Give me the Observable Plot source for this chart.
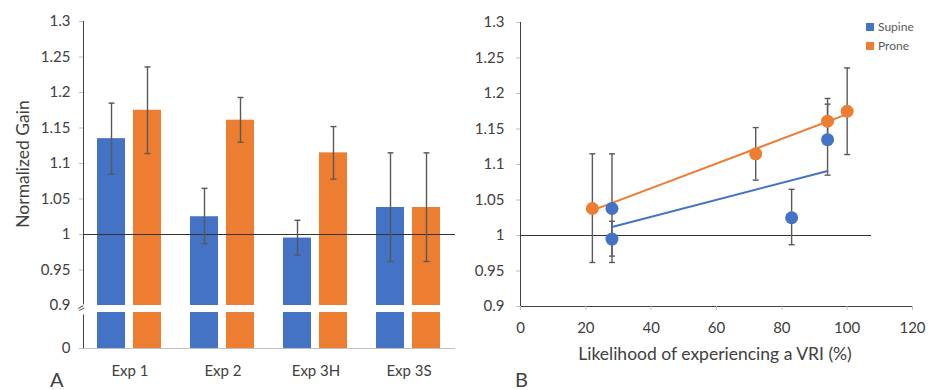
<!DOCTYPE html>
<html>
<head>
<meta charset="utf-8">
<script src="https://cdn.jsdelivr.net/npm/d3@7"></script>
<script src="https://cdn.jsdelivr.net/npm/@observablehq/plot@0.6"></script>
<style>
  body { margin: 0; background: #fff; }
  #wrap { position: relative; width: 933px; height: 390px; overflow: hidden; font-family: Lato, sans-serif; color: #404040; }
  #leftTop, #leftBottom, #right { position: absolute; }
  #leftTop { left: 0; top: 0; }
  #leftBottom { left: 0; top: 305px; }
  #right { left: 470px; top: 0; }
  svg [aria-label^="y-axis"] line, svg [aria-label^="y-axis"] path,
  svg [aria-label^="x-axis"] line, svg [aria-label^="x-axis"] path { stroke: #bfbfbf; }
  svg [aria-label^="fx-axis"] text { font-size: 15px; }
  .lbl { position: absolute; white-space: nowrap; color: #404040; }
  #ytitle { left: 22px; top: 164px; font-size: 17.5px; transform: translate(-50%, -50%) rotate(-90deg); }
  #xtitle { left: 715px; top: 353px; font-size: 17.5px; transform: translate(-50%, -50%); }
  #brk { left: 81px; top: 308px; font-size: 14px; line-height: 14px; transform: translate(-50%, -50%) rotate(-28deg); color: #595959; background: #fff; }
  #panelA, #panelB { top: 370px; font-size: 20px; line-height: 19px; height: 19px; }
  #panelA { left: 50px; }
  #panelB { left: 515px; }
  #legend { position: absolute; left: 866px; top: 17px; font-size: 12px; color: #595959; }
  #legend div { display: flex; align-items: center; height: 19px; }
  #legend span.sw { display: inline-block; width: 8px; height: 8px; margin-right: 4px; }
</style>
</head>
<body>
<div id="wrap">
  <div id="leftTop"></div>
  <div id="leftBottom"></div>
  <div id="right"></div>
  <div class="lbl" id="ytitle">Normalized Gain</div>
  <div class="lbl" id="xtitle">Likelihood of experiencing a VRI (%)</div>
  <div class="lbl" id="brk">=</div>
  <div class="lbl" id="panelA">A</div>
  <div class="lbl" id="panelB">B</div>
  <div id="legend"></div>
</div>
<script>
// ---- data ----
const categories = ["Exp 1", "Exp 2", "Exp 3H", "Exp 3S"];
const series = ["Supine", "Prone"];
const seriesColors = ["#4472C4", "#ED7D31"];

const supineMean = [1.135, 1.025, 0.995, 1.038];
const supineLo   = [1.085, 0.987, 0.971, 0.962];
const supineHi   = [1.185, 1.065, 1.020, 1.115];

const proneMean  = [1.175, 1.161, 1.115, 1.038];
const proneLo    = [1.114, 1.130, 1.078, 0.962];
const proneHi    = [1.236, 1.193, 1.152, 1.115];

// likelihood of experiencing a VRI (%) for each experiment
const likelihoodSupine = [94, 83, 28, 28];
const likelihoodProne  = [100, 94, 72, 22];

const yTicksTop    = [0.9, 0.95, 1, 1.05, 1.1, 1.15, 1.2, 1.25, 1.3];
const yTicksBottom = [0];
const yDomainTop    = [0.9, 1.3];   // upper part of broken axis (panel A)
const yDomainBottom = [0, 0.1];     // stub below the axis break (panel A)
const yTicksRight = [0.9, 0.95, 1, 1.05, 1.1, 1.15, 1.2, 1.25, 1.3];
const xTicksRight = [0, 20, 40, 60, 80, 100, 120];
const refLevel = [1];               // reference gain
const refLineX = [0, 107.5];        // extent of reference line on panel B

// ---- tables ----
const rows = categories.flatMap((c, i) => [
  {cat: c, series: "Supine", mean: supineMean[i], lo: supineLo[i], hi: supineHi[i]},
  {cat: c, series: "Prone",  mean: proneMean[i],  lo: proneLo[i],  hi: proneHi[i]}
]);
const scatter = [
  ...categories.map((c, i) => ({series: "Supine", x: likelihoodSupine[i], mean: supineMean[i], lo: supineLo[i], hi: supineHi[i]})),
  ...categories.map((c, i) => ({series: "Prone",  x: likelihoodProne[i],  mean: proneMean[i],  lo: proneLo[i],  hi: proneHi[i]}))
];

const fmt = d => String(d);
const cap = {draw(ctx, size) { const w = Math.sqrt(size / Math.PI); ctx.moveTo(-w, 0); ctx.lineTo(w, 0); }};
const errColor = "#595959";
const font = {fontFamily: "Lato, sans-serif", fontSize: "15px", color: "#404040", background: "transparent", overflow: "visible"};
const fxOpts = {domain: categories, padding: 0, label: null, tickSize: 0, tickPadding: 17};
const xOpts = {domain: series, axis: null, paddingInner: 0.22, paddingOuter: 0.39};
const colorOpts = {domain: series, range: seriesColors};

// ---- panel A, upper part ----
const leftTop = Plot.plot({
  width: 470, height: 312,
  marginLeft: 81, marginRight: 14, marginTop: 21, marginBottom: 7,
  style: font,
  facet: {data: rows, x: "cat"},
  fx: {...fxOpts, axis: null},
  x: xOpts,
  y: {domain: yDomainTop, clamp: true, ticks: yTicksTop, tickFormat: fmt, tickSize: 4, tickPadding: 9, line: true, label: null},
  color: colorOpts,
  marks: [
    Plot.barY(rows, {x: "series", y: "mean", fill: "series"}),
    Plot.ruleY(refLevel, {stroke: "#333", strokeWidth: 1}),
    Plot.ruleX(rows, {x: "series", y1: "lo", y2: "hi", stroke: errColor, strokeWidth: 1.4}),
    Plot.dot(rows, {x: "series", y: "lo", symbol: cap, r: 3, stroke: errColor, strokeWidth: 1.4, fill: "none"}),
    Plot.dot(rows, {x: "series", y: "hi", symbol: cap, r: 3, stroke: errColor, strokeWidth: 1.4, fill: "none"})
  ]
});
document.getElementById("leftTop").appendChild(leftTop);

// ---- panel A, stub below the break ----
const leftBottom = Plot.plot({
  width: 470, height: 85,
  marginLeft: 81, marginRight: 14, marginTop: 7, marginBottom: 42,
  style: font,
  facet: {data: rows, x: "cat"},
  fx: fxOpts,
  x: xOpts,
  y: {domain: yDomainBottom, clamp: true, ticks: yTicksBottom, tickFormat: fmt, tickSize: 4, tickPadding: 9, line: true, label: null},
  color: colorOpts,
  marks: [
    Plot.barY(rows, {x: "series", y: "mean", fill: "series"}),
    Plot.ruleY([0], {stroke: "#bfbfbf"})
  ]
});
document.getElementById("leftBottom").appendChild(leftBottom);

// ---- panel B ----
const right = Plot.plot({
  width: 463, height: 390,
  marginLeft: 50, marginRight: 21, marginTop: 22, marginBottom: 84,
  style: font,
  x: {domain: [0, 120], ticks: xTicksRight, tickFormat: fmt, tickSize: 4, tickPadding: 12, line: true, label: null},
  y: {domain: [0.9, 1.3], ticks: yTicksRight, tickFormat: fmt, tickSize: 4, tickPadding: 12, line: true, label: null},
  color: colorOpts,
  marks: [
    Plot.ruleY(refLevel, {x1: refLineX[0], x2: refLineX[1], stroke: "#333", strokeWidth: 1}),
    Plot.ruleX(scatter, {x: "x", y1: "lo", y2: "hi", stroke: errColor, strokeWidth: 1.4}),
    Plot.dot(scatter, {x: "x", y: "lo", symbol: cap, r: 3, stroke: errColor, strokeWidth: 1.4, fill: "none"}),
    Plot.dot(scatter, {x: "x", y: "hi", symbol: cap, r: 3, stroke: errColor, strokeWidth: 1.4, fill: "none"}),
    Plot.linearRegressionY(scatter, {x: "x", y: "mean", stroke: "series", ci: 0, strokeWidth: 2}),
    Plot.dot(scatter, {x: "x", y: "mean", fill: "series", r: 6.5})
  ]
});
document.getElementById("right").appendChild(right);

// ---- legend ----
const legend = document.getElementById("legend");
series.forEach((s, i) => {
  const row = document.createElement("div");
  row.innerHTML = `<span class="sw" style="background:${seriesColors[i]}"></span>${s}`;
  legend.appendChild(row);
});
</script>
</body>
</html>
